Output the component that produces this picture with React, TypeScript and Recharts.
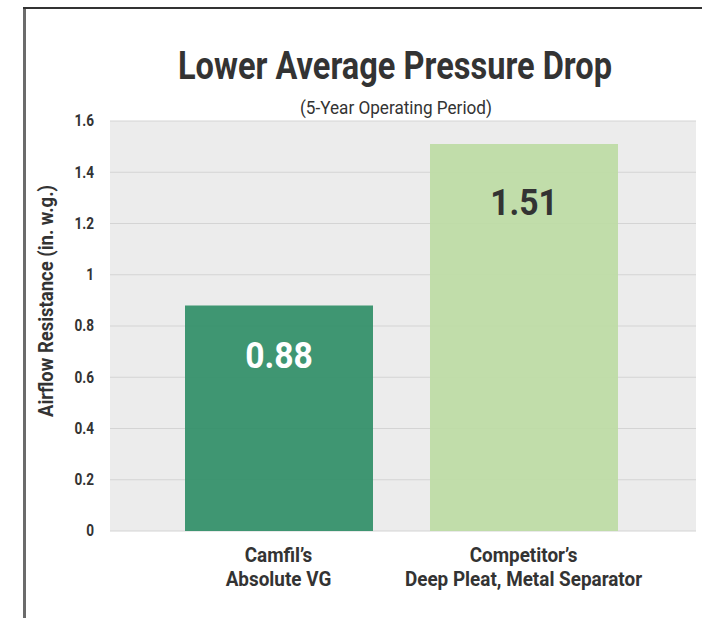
import { BarChart, Bar, XAxis, YAxis, CartesianGrid, Cell, LabelList } from 'recharts'

const products = ['Camfil’s\nAbsolute VG', 'Competitor’s\nDeep Pleat, Metal Separator']
const resistance = [0.88, 1.51]
const yTicks = [0, 0.2, 0.4, 0.6, 0.8, 1, 1.2, 1.4, 1.6]

const title = 'Lower Average Pressure Drop'
const subtitle = '(5-Year Operating Period)'
const yLabel = 'Airflow Resistance (in. w.g.)'

const barColors = ['#318f68', '#bddba5']
const labelColors = ['#ffffff', '#333333']
const labelOffsets = [62, 71]

const font = 'Roboto, sans-serif'

const data = products.map((name, i) => ({ name, value: resistance[i] }))

// no condensed font available, so squeeze the glyphs horizontally
function Narrow({ x, y, size, fill = '#333', children, k = 0.9 }: any) {
  return (
    <text
      transform={`translate(${x} ${y}) scale(${k} 1)`}
      textAnchor="middle"
      fontFamily={font}
      fontWeight="bold"
      fontSize={size}
      fill={fill}
    >
      {children}
    </text>
  )
}

function ProductTick({ x, y, payload }: any) {
  const lines = String(payload.value).split('\n')
  return (
    <g>
      {lines.map((l, i) => (
        <Narrow key={i} x={x} y={y + 23 + i * 24} size={21}>
          {l}
        </Narrow>
      ))}
    </g>
  )
}

function ValueTick({ x, y, payload }: any) {
  return (
    <text
      transform={`translate(${x} ${y}) scale(0.85 1)`}
      textAnchor="end"
      dominantBaseline="central"
      fontFamily={font}
      fontWeight="bold"
      fontSize={16}
      fill="#333"
    >
      {payload.value}
    </text>
  )
}

function ValueLabel({ x, y, width, value, index }: any) {
  return (
    <Narrow x={x + width / 2} y={y + labelOffsets[index]} size={37} fill={labelColors[index]} k={0.91}>
      {value}
    </Narrow>
  )
}

function AxisTitle({ viewBox }: any) {
  const cx = 53
  const cy = viewBox.y + viewBox.height / 2 - 25
  return (
    <text
      x={cx}
      y={cy}
      transform={`rotate(-90 ${cx} ${cy})`}
      textAnchor="middle"
      fontFamily={font}
      fontWeight="bold"
      fontSize={21}
      fill="#333"
      textLength={232}
      lengthAdjust="spacingAndGlyphs"
    >
      {yLabel}
    </text>
  )
}

export default function App() {
  return (
    <div style={{ position: 'absolute', left: 0, top: 0, width: 702, height: 618, background: '#fff' }}>
      <div style={{ position: 'absolute', left: 0, top: 0 }}>
        <BarChart width={702} height={618} data={data} margin={{ top: 121, right: 6, bottom: 27, left: 50 }}>
          <CartesianGrid vertical={false} fill="#ececec" stroke="#d4d4d4" strokeWidth={1} />
          <XAxis
            dataKey="name"
            height={60}
            axisLine={false}
            tickLine={false}
            interval={0}
            padding={{ left: 46, right: 50 }}
            tick={<ProductTick />}
          />
          <YAxis
            width={60}
            domain={[0, 1.6]}
            ticks={yTicks}
            axisLine={false}
            tickLine={false}
            tickMargin={10}
            tick={<ValueTick />}
            label={<AxisTitle />}
          />
          <Bar dataKey="value" barSize={188} isAnimationActive={false} fillOpacity={0.93}>
            {data.map((d, i) => (
              <Cell key={d.name} fill={barColors[i]} />
            ))}
            <LabelList dataKey="value" content={<ValueLabel />} />
          </Bar>
        </BarChart>
      </div>
      <svg width={702} height={618} style={{ position: 'absolute', left: 0, top: 0, pointerEvents: 'none' }}>
        <line x1={24.5} y1={8} x2={24.5} y2={618} stroke="#6b6b6b" strokeWidth={3} />
        <line x1={23} y1={8} x2={702} y2={8} stroke="#333" strokeWidth={2} />
        <text
          x={395}
          y={79}
          textAnchor="middle"
          fontFamily={font}
          fontWeight="bold"
          fontSize={38}
          fill="#333"
          textLength={434}
          lengthAdjust="spacingAndGlyphs"
        >
          {title}
        </text>
        <text
          x={396}
          y={114}
          textAnchor="middle"
          fontFamily={font}
          fontSize={18}
          fill="#333"
          textLength={192}
          lengthAdjust="spacingAndGlyphs"
        >
          {subtitle}
        </text>
      </svg>
    </div>
  )
}
